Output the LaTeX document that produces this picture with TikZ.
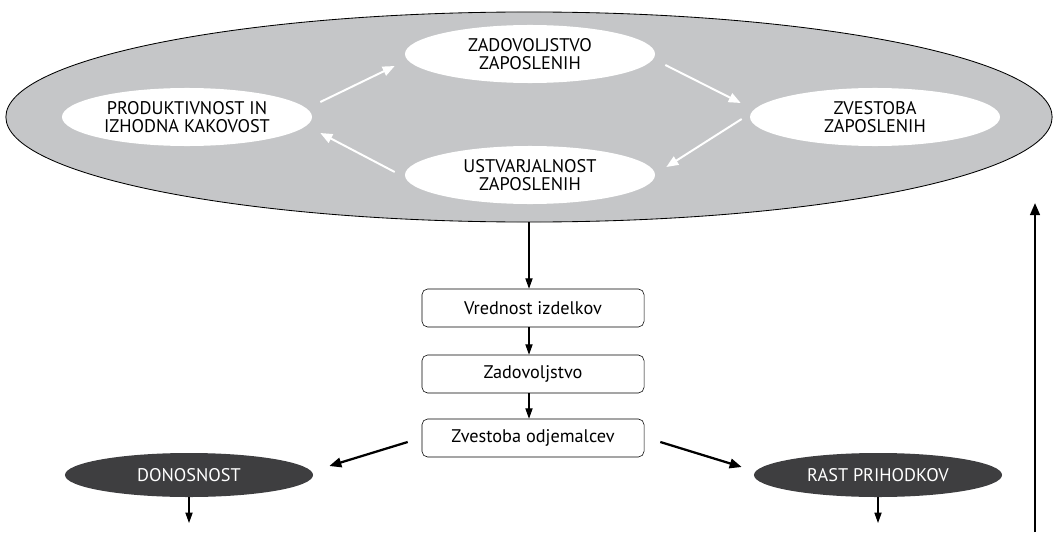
\documentclass[tikz,border=0pt]{standalone}
\usepackage{fontspec}
\setmainfont{PT Sans}
\usetikzlibrary{shapes.geometric,arrows.meta}
\definecolor{ringgray}{RGB}{197,198,200}
\definecolor{darkoval}{RGB}{62,62,64}

\begin{document}
\begin{tikzpicture}[x=0.025cm,y=-0.025cm,
  font=\fontsize{13}{12.5}\selectfont,
  whiteoval/.style={ellipse,fill=white,inner sep=0pt,minimum width=6.25cm,minimum height=1.45cm,align=center},
  darkoval/.style={ellipse,fill=darkoval,text=white,inner sep=0pt,minimum width=6.2cm,minimum height=1.1cm},
  stepbox/.style={draw,rounded corners=4pt,fill=white,minimum width=5.55cm,minimum height=0.95cm,inner sep=0pt},
  warrow/.style={draw=white,line width=1.4pt,-{Triangle[length=3mm,width=2.4mm]}},
  thinarrow/.style={line width=0.8pt,-{Triangle[length=2.6mm,width=1.8mm]}},
  thickarrow/.style={line width=1.6pt,-{Triangle[length=3mm,width=2.4mm]}}]
\useasboundingbox (0,0) rectangle (1057,532);

\node [ellipse,draw,line width=0.6pt,fill=ringgray,inner sep=0pt,minimum width=26.15cm,minimum height=5.25cm] (ring) at (529,117) {};

\node [whiteoval] (prod) at (187,117) {PRODUKTIVNOST IN\\IZHODNA KAKOVOST};
\node [whiteoval] (zadz) at (530,54) {ZADOVOLJSTVO\\ZAPOSLENIH};
\node [whiteoval] (zvez) at (875,117) {ZVESTOBA\\ZAPOSLENIH};
\node [whiteoval] (ustv) at (530,175) {USTVARJALNOST\\ZAPOSLENIH};

\draw [warrow] ([shift={(8,-15)}]prod.east) -- ([shift={(-10,12)}]zadz.west);
\draw [warrow] ([shift={(10,11)}]zadz.east) -- ([shift={(-9,-14)}]zvez.west);
\draw [warrow] ([shift={(-8,2)}]zvez.west) -- ([shift={(11,-8)}]ustv.east);
\draw [warrow] ([shift={(-10,-3)}]ustv.west) -- ([shift={(8,16)}]prod.east);

\node [stepbox] (value) at (533,308) {Vrednost izdelkov};
\node [stepbox] (satis) at (533,374) {Zadovoljstvo};
\node [stepbox] (loyal) at (533,438) {Zvestoba odjemalcev};

\node [darkoval] (don) at (189,475) {DONOSNOST};
\node [darkoval] (rast) at (878,475) {RAST PRIHODKOV};

\coordinate (donout) at (189,523);
\coordinate (rastout) at (878,523);
\coordinate (loopstart) at (1035,532);
\coordinate (loopend) at (1035,203);

\draw [thinarrow] (ring.south) -- (ring.south |- value.north);
\draw [thinarrow] (value.south -| ring.south) -- (ring.south |- satis.north);
\draw [thinarrow] (satis.south -| ring.south) -- (ring.south |- loyal.north);

\draw [thickarrow] ([shift={(-14,4)}]loyal.west) -- ([shift={(16,-9)}]don.east);
\draw [thickarrow] ([shift={(16,4)}]loyal.east) -- ([shift={(-12,-8)}]rast.west);

\draw [thinarrow] (don.south) -- (donout);
\draw [thinarrow] (rast.south) -- (rastout);
\draw [thickarrow] (loopstart) -- (loopend);
\end{tikzpicture}
\end{document}
